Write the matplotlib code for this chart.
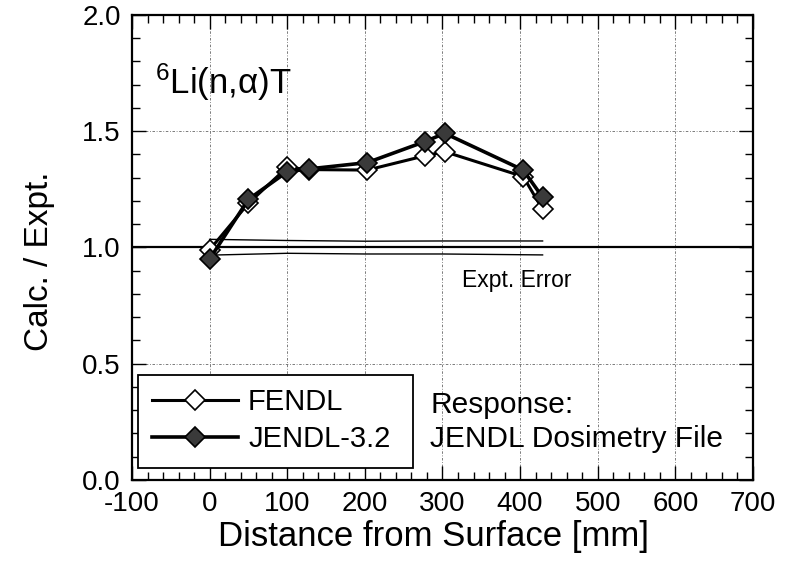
import matplotlib
matplotlib.use("Agg")
import matplotlib.pyplot as plt
from matplotlib.ticker import MultipleLocator
from matplotlib.patches import Rectangle

plt.rcParams['font.family'] = ['Liberation Sans', 'DejaVu Sans']
plt.rcParams['mathtext.fontset'] = 'custom'
plt.rcParams['mathtext.rm'] = 'Liberation Sans'
plt.rcParams['mathtext.it'] = 'Liberation Sans'
plt.rcParams['axes.unicode_minus'] = False

# Data
distance = [0, 50, 100, 128, 203, 277, 303, 404, 429]
fendl = [0.99, 1.19, 1.345, 1.335, 1.333, 1.394, 1.412, 1.305, 1.164]
jendl = [0.95, 1.207, 1.326, 1.338, 1.365, 1.455, 1.491, 1.333, 1.216]

err_x = [0, 100, 200, 300, 429]
err_upper = [1.035, 1.03, 1.027, 1.028, 1.028]
err_lower = [0.967, 0.975, 0.972, 0.972, 0.968]

xticks = [-100, 0, 100, 200, 300, 400, 500, 600, 700]
yticks = [0.0, 0.5, 1.0, 1.5, 2.0]

fig = plt.figure(figsize=(8.01, 5.68), dpi=100)
ax = fig.add_axes([0.1648, 0.155, 0.940 - 0.1648, 0.9736 - 0.155])

TFS = 20

ax.set_xlim(-100, 700)
ax.set_ylim(0, 2.0)
ax.set_xticks(xticks)
ax.set_yticks(yticks)
ax.set_yticklabels([f"{v:.1f}" for v in yticks])
ax.xaxis.set_minor_locator(MultipleLocator(20))
ax.yaxis.set_minor_locator(MultipleLocator(0.1))
ax.tick_params(which='both', direction='in', top=True, right=True, labelsize=TFS, width=1.0)
ax.tick_params(which='major', length=10)
ax.tick_params(which='minor', length=6)
ax.tick_params(axis='x', pad=8)
ax.tick_params(axis='y', pad=8)
for s in ax.spines.values():
    s.set_linewidth(1.6)

ax.grid(True, which='major', linestyle=(0, (3, 2, 1, 2)), color='#666666', linewidth=0.6)

ax.axhline(1.0, color='black', linewidth=1.6, zorder=2)
ax.plot(err_x, err_upper, color='black', linewidth=1.0, zorder=2)
ax.plot(err_x, err_lower, color='black', linewidth=1.0, zorder=2)

ax.plot(distance, fendl, color='black', linewidth=2.2, marker='D', markersize=10,
        markerfacecolor='white', markeredgecolor='black', markeredgewidth=1.2,
        label='FENDL', zorder=4)
ax.plot(distance, jendl, color='black', linewidth=2.6, marker='D', markersize=10,
        markerfacecolor='#3a3a3a', markeredgecolor='black', markeredgewidth=1.2,
        label='JENDL-3.2', zorder=5)

ax.text(-70, 1.71, r'$^{6}$Li(n,α)T', fontsize=25, va='center', ha='left')
ax.text(325, 0.86, 'Expt. Error', fontsize=16.5, va='center', ha='left')
ax.text(284, 0.323, 'Response:', fontsize=21.5, va='center', ha='left')
ax.text(284, 0.176, 'JENDL Dosimetry File', fontsize=21.5, va='center', ha='left')

# Legend box
ax.add_patch(Rectangle((0.0097, 0.0258), 0.4428, 0.2, transform=ax.transAxes,
                       facecolor='white', edgecolor='black', linewidth=1.3, zorder=6))
leg = ax.legend(loc='center left', bbox_to_anchor=(0.032, 0.128), fontsize=21,
                handlelength=2.95, handletextpad=0.35, borderpad=0,
                labelspacing=0.3, frameon=False, borderaxespad=0)
leg.set_zorder(7)

ax.set_xlabel('Distance from Surface [mm]', fontsize=25)
ax.set_ylabel('Calc. / Expt.', fontsize=24)
ax.xaxis.set_label_coords(0.486, -0.086)
ax.yaxis.set_label_coords(-0.124, 0.47)

fig.savefig('out.png', dpi=100)
